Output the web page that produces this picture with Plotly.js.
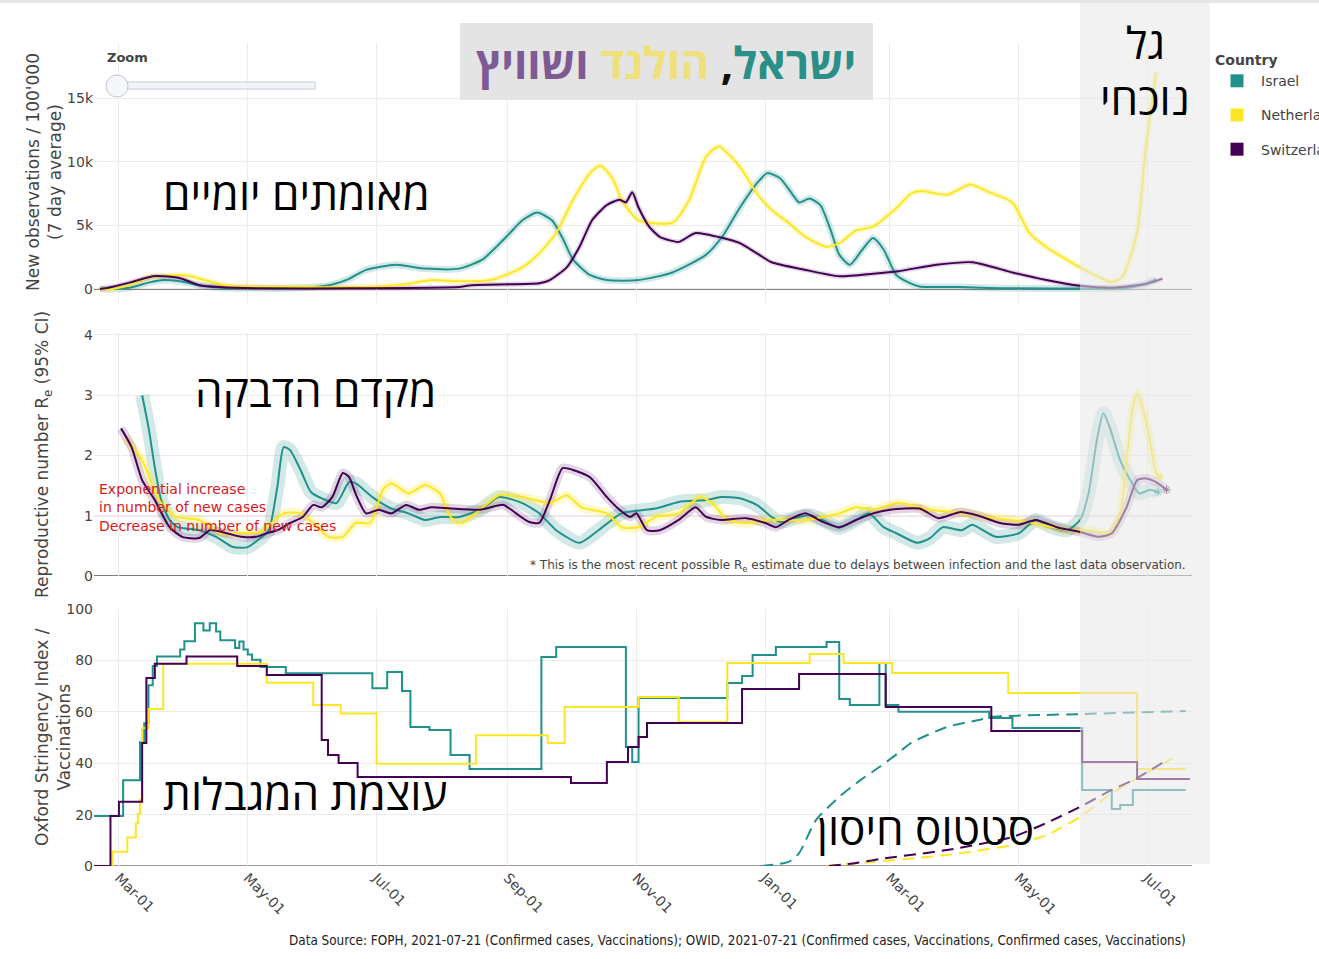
<!DOCTYPE html>
<html><head><meta charset="utf-8">
<script src="https://cdn.plot.ly/plotly-3.0.1.min.js"></script>
<style>body{margin:0;background:#fff}#chart{width:1319px;height:959px}</style>
</head><body><div id="chart"></div>
<script>
// ---------- Daily confirmed cases (7 day average) ----------
const casesDatesIL = ['2020-02-21','2020-02-26','2020-03-06','2020-03-15','2020-03-22','2020-03-30','2020-04-08','2020-04-18','2020-05-07','2020-05-21','2020-06-04','2020-06-10','2020-06-18','2020-06-26','2020-07-10','2020-07-24','2020-08-09','2020-08-20','2020-09-01','2020-09-08','2020-09-15','2020-09-22','2020-09-27','2020-10-02','2020-10-10','2020-10-18','2020-11-02','2020-11-18','2020-12-04','2020-12-12','2020-12-20','2020-12-28','2021-01-02','2021-01-08','2021-01-14','2021-01-17','2021-01-22','2021-01-27','2021-02-01','2021-02-05','2021-02-10','2021-02-16','2021-02-21','2021-02-26','2021-03-04','2021-03-10','2021-03-15','2021-04-03','2021-04-22','2021-06-08','2021-06-22','2021-06-30','2021-07-05'];
const casesIL = [0,0,100,500,700,600,300,100,50,50,200,350,800,1500,1900,1600,1600,2300,4200,5400,6000,5400,4000,2300,1100,700,700,1300,2700,4200,6400,8300,9100,8700,7400,6800,7100,6600,4600,2700,1900,3100,4000,3100,1100,500,200,150,60,30,100,400,800];

const casesDatesNL = ['2020-02-21','2020-02-27','2020-03-06','2020-03-15','2020-03-30','2020-04-04','2020-04-15','2020-04-22','2020-05-26','2020-07-02','2020-07-16','2020-07-27','2020-08-09','2020-08-24','2020-09-08','2020-09-16','2020-09-24','2020-10-02','2020-10-10','2020-10-15','2020-10-21','2020-10-25','2020-11-02','2020-11-18','2020-11-26','2020-12-04','2020-12-10','2020-12-20','2020-12-28','2021-01-04','2021-01-12','2021-01-20','2021-01-30','2021-02-05','2021-02-13','2021-02-21','2021-03-05','2021-03-11','2021-03-16','2021-03-28','2021-04-08','2021-04-17','2021-04-28','2021-05-06','2021-05-14','2021-05-30','2021-06-14','2021-06-19','2021-06-26','2021-06-30','2021-07-05'];
const casesNL = [0,0,300,900,1100,1000,500,250,150,200,400,700,600,700,1700,2800,4400,7000,9100,9700,8600,7000,5400,5200,7000,10400,11200,9600,7500,6200,5200,4100,3300,3600,4600,4900,6500,7500,7700,7400,8200,7600,6800,4400,3300,1700,550,950,4400,10900,17000];

const casesDatesCH = ['2020-02-21','2020-02-25','2020-03-06','2020-03-17','2020-03-22','2020-03-30','2020-04-08','2020-04-18','2020-05-07','2020-06-18','2020-08-09','2020-08-15','2020-09-16','2020-09-21','2020-09-29','2020-10-05','2020-10-11','2020-10-18','2020-10-24','2020-10-27','2020-10-30','2020-11-02','2020-11-07','2020-11-12','2020-11-21','2020-11-29','2020-12-12','2020-12-20','2020-12-28','2021-01-04','2021-01-20','2021-02-05','2021-02-21','2021-03-05','2021-03-23','2021-04-09','2021-04-28','2021-05-14','2021-05-30','2021-06-14','2021-06-30','2021-07-08'];
const casesCH = [0,100,500,1000,1000,850,300,150,50,50,150,300,450,700,1700,3300,5400,6600,7000,6800,7600,6400,4900,4100,3700,4400,4000,3600,2800,2100,1500,1000,1200,1400,1900,2100,1300,700,250,100,400,800];

// ---------- Reproductive number Re ----------
const reDatesIL = ['2020-03-12','2020-03-15','2020-03-18','2020-03-21','2020-03-25','2020-03-29','2020-04-08','2020-04-16','2020-04-24','2020-05-01','2020-05-07','2020-05-11','2020-05-15','2020-05-18','2020-05-21','2020-05-26','2020-05-31','2020-06-07','2020-06-12','2020-06-18','2020-06-21','2020-06-29','2020-07-08','2020-07-16','2020-07-24','2020-07-31','2020-08-09','2020-08-19','2020-08-28','2020-09-08','2020-09-16','2020-09-24','2020-10-05','2020-10-14','2020-10-25','2020-11-10','2020-11-21','2020-12-04','2020-12-11','2020-12-20','2020-12-28','2021-01-04','2021-01-08','2021-01-17','2021-01-22','2021-01-28','2021-02-05','2021-02-13','2021-02-19','2021-02-26','2021-03-04','2021-03-14','2021-03-20','2021-03-26','2021-04-04','2021-04-09','2021-04-20','2021-05-01','2021-05-09','2021-05-17','2021-05-24','2021-05-30','2021-06-03','2021-06-07','2021-06-10','2021-06-13','2021-06-18','2021-06-22','2021-06-27','2021-07-02','2021-07-06'];
const reIL = [3.0,2.47,1.8,1.26,0.93,0.81,0.76,0.65,0.48,0.48,0.63,0.76,1.48,2.14,2.09,1.76,1.39,1.26,1.21,1.56,1.54,1.31,1.12,1.04,0.93,0.98,0.98,1.1,1.31,1.21,1.04,0.76,0.55,0.76,1.04,1.12,1.23,1.26,1.31,1.29,1.18,0.98,0.9,0.98,1.01,0.93,0.8,0.93,1.04,0.81,0.71,0.55,0.63,0.81,0.76,0.85,0.65,0.71,0.93,0.81,0.76,0.93,1.37,2.26,2.7,2.47,1.92,1.64,1.37,1.43,1.39];

const reDatesNL = ['2020-03-04','2020-03-12','2020-03-20','2020-03-28','2020-04-08','2020-04-18','2020-04-27','2020-05-07','2020-05-18','2020-05-26','2020-06-02','2020-06-08','2020-06-15','2020-06-21','2020-06-28','2020-07-04','2020-07-08','2020-07-16','2020-07-24','2020-07-31','2020-08-05','2020-08-10','2020-08-19','2020-08-28','2020-09-08','2020-09-21','2020-09-29','2020-10-06','2020-10-18','2020-10-25','2020-11-02','2020-11-10','2020-11-21','2020-12-01','2020-12-07','2020-12-14','2020-12-23','2021-01-01','2021-01-20','2021-02-05','2021-02-13','2021-02-21','2021-03-05','2021-03-20','2021-04-03','2021-04-22','2021-05-08','2021-05-24','2021-06-03','2021-06-13','2021-06-18','2021-06-21','2021-06-24','2021-06-26','2021-06-29','2021-07-02','2021-07-05','2021-07-07'];
const reNL = [2.3,1.92,1.26,0.98,0.93,0.71,0.71,0.73,1.04,1.04,0.85,0.65,0.65,0.88,0.88,1.43,1.54,1.37,1.51,1.37,0.98,0.88,1.1,1.34,1.31,1.21,1.34,1.14,1.04,0.81,0.81,0.98,1.04,1.31,1.21,0.93,0.88,0.93,0.93,1.04,1.14,1.1,1.21,1.1,1.05,0.95,0.88,0.76,0.76,0.71,1.04,1.92,2.8,3.03,2.75,2.26,1.71,1.64];

const reDatesCH = ['2020-03-02','2020-03-07','2020-03-12','2020-03-18','2020-03-25','2020-03-31','2020-04-08','2020-04-13','2020-04-21','2020-04-28','2020-05-05','2020-05-10','2020-05-15','2020-05-21','2020-05-27','2020-06-01','2020-06-05','2020-06-10','2020-06-15','2020-06-18','2020-06-21','2020-06-26','2020-07-02','2020-07-08','2020-07-15','2020-07-21','2020-07-27','2020-08-05','2020-08-19','2020-08-30','2020-09-05','2020-09-11','2020-09-16','2020-09-21','2020-09-27','2020-10-02','2020-10-10','2020-10-18','2020-10-24','2020-10-29','2020-11-01','2020-11-06','2020-11-12','2020-11-21','2020-11-29','2020-12-04','2020-12-11','2020-12-23','2021-01-01','2021-01-06','2021-01-12','2021-01-20','2021-01-28','2021-02-05','2021-02-13','2021-02-21','2021-03-01','2021-03-15','2021-03-24','2021-04-03','2021-04-12','2021-04-22','2021-05-01','2021-05-09','2021-05-19','2021-05-30','2021-06-08','2021-06-14','2021-06-21','2021-06-26','2021-06-30','2021-07-05','2021-07-10'];
const reCH = [2.45,2.14,1.59,1.26,0.81,0.65,0.63,0.76,0.71,0.65,0.65,0.71,0.76,0.88,0.98,1.18,1.14,1.31,1.71,1.64,1.37,1.04,1.1,1.04,1.18,1.1,1.14,1.12,1.1,1.18,1.04,0.9,0.88,1.26,1.79,1.76,1.64,1.31,1.1,0.98,1.04,0.76,0.76,0.93,1.14,0.98,0.93,0.96,0.88,0.81,0.93,1.04,0.9,0.81,0.93,1.04,1.1,1.12,0.96,1.06,1.0,0.88,0.85,0.93,0.81,0.73,0.65,0.71,1.14,1.59,1.62,1.56,1.43];

// ---------- Oxford Stringency Index (step changes) ----------
const siDatesIL = ['2020-02-10','2020-03-03','2020-03-11','2020-03-13','2020-03-15','2020-03-17','2020-03-19','2020-03-30','2020-04-01','2020-04-06','2020-04-10','2020-04-13','2020-04-16','2020-04-18','2020-04-25','2020-04-27','2020-04-29','2020-05-01','2020-05-03','2020-05-07','2020-05-19','2020-06-29','2020-07-06','2020-07-13','2020-07-17','2020-07-26','2020-08-05','2020-08-14','2020-09-17','2020-09-24','2020-10-27','2020-10-30','2020-11-02','2020-12-14','2020-12-21','2020-12-26','2021-01-06','2021-01-30','2021-02-05','2021-02-10','2021-02-24','2021-02-27','2021-03-05','2021-04-17','2021-04-28','2021-05-31','2021-06-14','2021-06-18','2021-06-24','2021-07-19'];
const siIL = [19.44,33.33,48.15,55.56,70.37,77.78,81.48,84.26,87.5,94.44,91.67,94.44,91.2,87.8,84.8,87.4,84.2,82.3,80.3,77.4,75.0,69.2,75.5,68.1,54.1,52.9,43.2,37.7,81.3,85.2,46.3,40.5,65.4,71.2,73.9,82.1,85.2,87.2,65.0,62.6,79.0,62.6,60.0,57.6,53.7,29.6,22.2,23.7,29.6,29.6];

const siDatesNL = ['2020-02-10','2020-02-27','2020-03-05','2020-03-09','2020-03-10','2020-03-11','2020-03-12','2020-03-15','2020-03-22','2020-05-10','2020-06-01','2020-06-14','2020-07-01','2020-08-17','2020-09-20','2020-09-28','2020-11-02','2020-11-21','2020-12-14','2021-01-22','2021-02-07','2021-03-02','2021-04-26','2021-06-26','2021-07-19'];
const siNL = [0,5.56,11.11,16.67,20.37,25.93,53.7,61.11,78.7,71.3,62.6,59.3,39.8,50.9,47.9,61.9,65.8,56.0,79.0,82.5,79.0,75.1,67.3,37.7,37.7];

const siDatesCH = ['2020-02-10','2020-02-26','2020-03-01','2020-03-12','2020-03-14','2020-03-18','2020-04-02','2020-04-26','2020-05-10','2020-06-05','2020-06-08','2020-06-13','2020-06-22','2020-10-01','2020-10-18','2020-10-28','2020-11-02','2020-11-06','2020-12-21','2021-01-17','2021-02-27','2021-04-18','2021-05-31','2021-06-26','2021-07-21'];
const siCH = [0,19.44,25.0,47.9,73.15,78.7,81.48,77.78,74.3,49.0,43.2,40.1,34.6,32.3,40.5,46.3,50.2,55.6,68.9,74.7,61.9,52.5,40.5,33.9,33.9];

// ---------- Vaccinations (dashed) ----------
const vacDatesIL = ['2020-12-30','2021-01-12','2021-01-17','2021-01-25','2021-02-05','2021-02-15','2021-02-24','2021-03-05','2021-03-11','2021-03-28','2021-04-12','2021-04-18','2021-05-30','2021-07-19'];
const vacIL = [0,1.6,5,17.9,26.9,33.4,38.5,44,47.9,54.1,56.8,58,59.1,60.3];
const vacDatesNL = ['2021-01-30','2021-02-21','2021-03-28','2021-04-28','2021-05-14','2021-05-30','2021-06-14','2021-06-26','2021-07-13'];
const vacNL = [0,1.6,4.3,8.2,12,19,28.4,34.2,42];
const vacDatesCH = ['2021-01-31','2021-02-13','2021-02-24','2021-03-28','2021-04-28','2021-05-14','2021-05-30','2021-06-14','2021-06-26','2021-07-10'];
const vacCH = [0,1.2,2.7,6.2,11.3,16.7,23,29.6,34.2,41.2];

const countries = ['Israel','Netherlands','Switzerland'];
const colors = {Israel:'#21918c', Netherlands:'#fde725', Switzerland:'#440154'};
const bandColors = {Israel:'rgba(33,145,140,0.2)', Netherlands:'rgba(253,231,37,0.25)', Switzerland:'rgba(68,1,84,0.16)'};

const traces = [];
function line(x, y, yaxis, name, opts) {
  traces.push(Object.assign({type:'scatter', mode:'lines', x:x, y:y, xaxis:'x', yaxis:yaxis,
    name:name, showlegend:false, hoverinfo:'skip'}, opts));
}
const casesX = {Israel:casesDatesIL, Netherlands:casesDatesNL, Switzerland:casesDatesCH};
const casesY = {Israel:casesIL, Netherlands:casesNL, Switzerland:casesCH};
const reX = {Israel:reDatesIL, Netherlands:reDatesNL, Switzerland:reDatesCH};
const reY = {Israel:reIL, Netherlands:reNL, Switzerland:reCH};
const siX = {Israel:siDatesIL, Netherlands:siDatesNL, Switzerland:siDatesCH};
const siY = {Israel:siIL, Netherlands:siNL, Switzerland:siCH};
const vacX = {Israel:vacDatesIL, Netherlands:vacDatesNL, Switzerland:vacDatesCH};
const vacY = {Israel:vacIL, Netherlands:vacNL, Switzerland:vacCH};
const reBandW = {Israel:14, Netherlands:9, Switzerland:9};
const caseBandW = {Israel:7, Netherlands:6, Switzerland:5};

countries.forEach(c => {
  line(casesX[c], casesY[c], 'y', c, {line:{color:bandColors[c], width:caseBandW[c], shape:'spline', smoothing:0.6}});
  line(reX[c], reY[c], 'y2', c, {line:{color:bandColors[c], width:reBandW[c], shape:'spline', smoothing:0.6}});
});
countries.forEach(c => {
  line(casesX[c], casesY[c], 'y', c, {line:{color:colors[c], width:2, shape:'spline', smoothing:0.6}});
  line(reX[c], reY[c], 'y2', c, {line:{color:colors[c], width:2, shape:'spline', smoothing:0.6}});
  line(siX[c], siY[c], 'y3', c, {line:{color:colors[c], width:2, shape:'hv'}});
  line(vacX[c], vacY[c], 'y3', c, {line:{color:colors[c], width:2, dash:'12px,7px', shape:'spline', smoothing:0.6}});
});
// most recent Re estimate markers
countries.forEach(c => {
  const n = reX[c].length - 1;
  line([reX[c][n]], [reY[c][n]], 'y2', c, {mode:'markers', marker:{symbol:'asterisk-open', size:7, color:colors[c], line:{color:colors[c], width:1}}});
});
// legend entries (square symbols)
countries.forEach((c,i) => {
  traces.push({type:'scatter', mode:'markers', x:[null], y:[null], xaxis:'x', yaxis:'y', name:c,
    legendgroup:'g'+i, showlegend:true, marker:{symbol:'square', size:13, color:colors[c]}});
});

// pixel -> paper helpers (plot area: x 94..1192, y 43..866)
const px = v => (v - 94) / 1098;
const py = v => (866 - v) / 823;
const heb = 'Open Sans, DejaVu Sans, sans-serif';

const shapes = [
  {type:'rect', xref:'paper', yref:'paper', x0:px(0), x1:px(1319), y0:py(3), y1:py(0), fillcolor:'#e6e6e6', line:{width:0}, layer:'above'},
  {type:'line', xref:'paper', yref:'y', x0:0, x1:1, y0:0, y1:0, line:{color:'#8c8078', width:2}, layer:'below'},
  {type:'line', xref:'paper', yref:'y2', x0:0, x1:1, y0:0, y1:0, line:{color:'#555', width:1.5}, layer:'below'},
  {type:'line', xref:'paper', yref:'y3', x0:0, x1:1, y0:0, y1:0, line:{color:'#999', width:2}, layer:'below'},
  {type:'line', xref:'paper', yref:'y2', x0:0, x1:1, y0:1, y1:1, line:{color:'rgba(214,39,40,0.55)', width:1}, layer:'below'},
  {type:'rect', xref:'paper', yref:'paper', x0:px(1080), x1:px(1210), y0:py(864), y1:py(3), fillcolor:'rgba(232,232,232,0.55)', line:{width:0}, layer:'above'},
  {type:'rect', xref:'paper', yref:'paper', x0:px(460), x1:px(873), y0:py(100), y1:py(23), fillcolor:'#e4e4e4', line:{width:0}, layer:'above'},
  {type:'rect', xref:'paper', yref:'paper', x0:px(124), x1:px(315), y0:py(89), y1:py(82), fillcolor:'#f2f4f7', line:{color:'#c6cdd8', width:1}, layer:'above'},
  {type:'circle', xref:'paper', yref:'paper', x0:px(106), x1:px(128), y0:py(97), y1:py(75), fillcolor:'#f5f7fa', line:{color:'#bfc7d5', width:1}, layer:'above'}
];

const ann = (o) => Object.assign({xref:'paper', yref:'paper', showarrow:false, xanchor:'center', yanchor:'middle'}, o);
const annotations = [
  ann({x:px(666), y:py(62), text:'<b><span style="color:#2a8f87">ישראל</span><span style="color:#111">,</span> <span style="color:#efe07b">הולנד</span> <span style="color:#7d5a94">ושוויץ</span></b>', font:{family:heb, size:44}}),
  ann({x:px(1145), y:py(42), text:'גל', font:{family:heb, size:44, color:'#000'}}),
  ann({x:px(1145), y:py(98), text:'נוכחי', font:{family:heb, size:44, color:'#000'}}),
  ann({x:px(296), y:py(193), text:'מאומתים יומיים', font:{family:heb, size:44, color:'#000'}}),
  ann({x:px(315), y:py(390), text:'מקדם הדבקה', font:{family:heb, size:44, color:'#000'}}),
  ann({x:px(305), y:py(793), text:'עוצמת המגבלות', font:{family:heb, size:44, color:'#000'}}),
  ann({x:px(925), y:py(828), text:'סטטוס חיסון', font:{family:heb, size:44, color:'#000'}}),
  ann({x:px(105), y:py(58), xanchor:'left', text:'<b>Zoom</b>', font:{size:13, color:'#444'}}),
  ann({x:px(44), y:py(172), textangle:-90, text:"New observations / 100'000<br>(7 day average)", font:{size:17, color:'#444'}}),
  ann({x:px(43), y:py(455), textangle:-90, text:'Reproductive number R<sub>e</sub> (95% CI)', font:{size:17, color:'#444'}}),
  ann({x:px(53), y:py(737), textangle:-90, text:'Oxford Stringency Index /<br>Vaccinations', font:{size:17, color:'#444'}}),
  ann({x:px(97), y:py(498), xanchor:'left', align:'left', text:'Exponential increase<br>in number of new cases', font:{size:14, color:'#d7191c'}}),
  ann({x:px(97), y:py(526), xanchor:'left', align:'left', text:'Decrease in number of new cases', font:{size:14, color:'#d7191c'}}),
  ann({x:px(1188), y:py(566), xanchor:'right', text:'* This is the most recent possible R<sub>e</sub> estimate due to delays between infection and the last data observation.', font:{family:'DejaVu Sans, sans-serif', size:12, color:'#444'}}),
  ann({x:px(1188), y:py(941), xanchor:'right', text:'Data Source: FOPH, 2021-07-21 (Confirmed cases, Vaccinations); OWID, 2021-07-21 (Confirmed cases, Vaccinations, Confirmed cases, Vaccinations)', font:{family:'DejaVu Sans Condensed, DejaVu Sans, sans-serif', size:13.4, color:'#222'}})
];

const grid = '#ececec';
const tf = {size:14, color:'#444'};
const layout = {
  width:1319, height:959,
  margin:{l:94, r:127, t:43, b:93, autoexpand:false},
  paper_bgcolor:'#ffffff', plot_bgcolor:'rgba(0,0,0,0)',
  font:{family:'DejaVu Sans, Verdana, sans-serif', size:13, color:'#444'},
  showlegend:true,
  legend:{x:px(1213), xanchor:'left', y:py(47), yanchor:'top', traceorder:'grouped', tracegroupgap:13, itemwidth:38,
    title:{text:'<b>Country</b>', font:{size:14, color:'#444'}}, font:{size:14, color:'#444'}, bgcolor:'rgba(0,0,0,0)'},
  xaxis:{type:'date', range:['2020-02-18 05:00','2021-07-22'], anchor:'y3', tick0:'2020-03-01', dtick:'M2',
    tickformat:'%b-%d', tickangle:45, showgrid:true, gridcolor:grid, zeroline:false, showline:false, ticks:'',
    tickfont:tf},
  yaxis:{domain:[py(303), 1], range:[-1100, 19320], tickvals:[0,5000,10000,15000], ticktext:['0','5k','10k','15k'],
    gridcolor:grid, zeroline:false, anchor:'x', ticks:'', tickfont:tf},
  yaxis2:{domain:[py(576), py(333)], range:[0, 4.033], tickvals:[0,1,2,3,4], gridcolor:grid, zeroline:false, anchor:'x', ticks:'', tickfont:tf},
  yaxis3:{domain:[0, py(609)], range:[0, 100], tickvals:[0,20,40,60,80,100], gridcolor:grid, zeroline:false, anchor:'x', ticks:'', tickfont:tf},
  shapes:shapes, annotations:annotations
};
Plotly.newPlot('chart', traces, layout, {displayModeBar:false, staticPlot:true});
</script></body></html>
